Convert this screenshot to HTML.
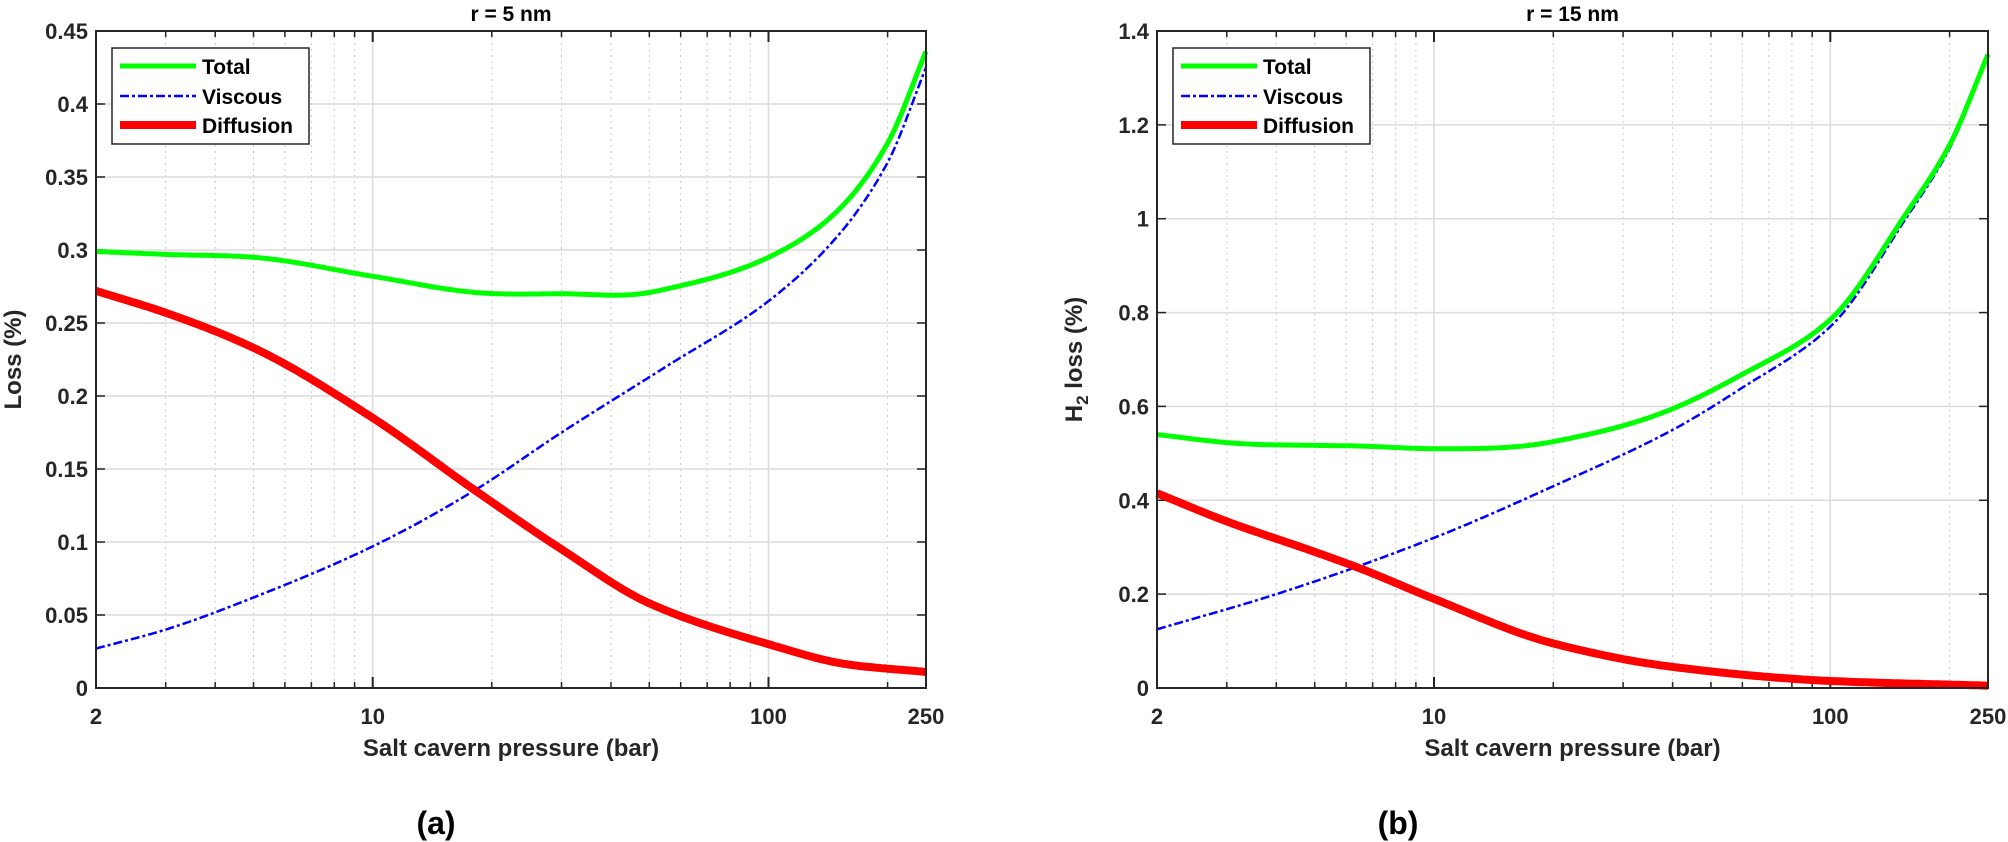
<!DOCTYPE html>
<html><head><meta charset="utf-8"><style>
html,body{margin:0;padding:0;background:#fff;}
svg{display:block;font-family:"Liberation Sans",Arial,sans-serif;font-weight:bold;}
</style></head><body>
<svg id="s" width="2008" height="842" viewBox="0 0 2008 842" xmlns="http://www.w3.org/2000/svg"></svg>
<script>
const S=document.getElementById('s');let h='';
function mono(pts){ // Fritsch-Carlson in log x
  const x=pts.map(p=>Math.log(p[0])),y=pts.map(p=>p[1]),n=x.length;
  const d=[],m=[];for(let i=0;i<n-1;i++)d.push((y[i+1]-y[i])/(x[i+1]-x[i]));
  m[0]=d[0];m[n-1]=d[n-2];
  for(let i=1;i<n-1;i++){if(d[i-1]*d[i]<=0)m[i]=0;else{const w1=2*(x[i+1]-x[i])+(x[i]-x[i-1]),w2=(x[i+1]-x[i])+2*(x[i]-x[i-1]);m[i]=(w1+w2)/(w1/d[i-1]+w2/d[i]);}}
  return lp=>{let i=0;while(i<n-2&&lp>x[i+1])i++;const hh=x[i+1]-x[i],t=(lp-x[i])/hh,t2=t*t,t3=t2*t;
    return (2*t3-3*t2+1)*y[i]+(t3-2*t2+t)*hh*m[i]+(-2*t3+3*t2)*y[i+1]+(t3-t2)*hh*m[i+1];};
}
function plot(L,R,T,B,ymax,ystep,ydec,vis,dif,title,ylabel,ylx,tag,tagx){
  const W=R-L,H=B-T;
  const X=p=>L+W*Math.log(p/2)/Math.log(125);
  const Y=v=>B-H*v/ymax;
  [3,4,5,6,7,8,9,20,30,40,50,60,70,80,90,200].forEach(p=>{const x=X(p).toFixed(1);
    h+=`<line x1="${x}" y1="${T}" x2="${x}" y2="${B}" stroke="#c8c8c8" stroke-width="1" stroke-dasharray="2,4"/>`;
    h+=`<line x1="${x}" y1="${B}" x2="${x}" y2="${B-6}" stroke="#222" stroke-width="1.5"/><line x1="${x}" y1="${T}" x2="${x}" y2="${T+6}" stroke="#222" stroke-width="1.5"/>`;});
  [10,100].forEach(p=>{const x=X(p).toFixed(1);
    h+=`<line x1="${x}" y1="${T}" x2="${x}" y2="${B}" stroke="#dcdcdc" stroke-width="1.5"/>`;
    h+=`<line x1="${x}" y1="${B}" x2="${x}" y2="${B-11}" stroke="#222" stroke-width="2"/><line x1="${x}" y1="${T}" x2="${x}" y2="${T+11}" stroke="#222" stroke-width="2"/>`;});
  const n=Math.round(ymax/ystep);
  for(let i=0;i<=n;i++){const v=i*ystep,y=Y(v).toFixed(1);
    if(i>0&&i<n)h+=`<line x1="${L}" y1="${y}" x2="${R}" y2="${y}" stroke="#dcdcdc" stroke-width="1.5"/>`;
    h+=`<line x1="${L}" y1="${y}" x2="${L+9}" y2="${y}" stroke="#222" stroke-width="1.5"/><line x1="${R}" y1="${y}" x2="${R-9}" y2="${y}" stroke="#222" stroke-width="1.5"/>`;
    let lab=i==0?'0':(+v.toFixed(ydec)).toString();
    h+=`<text x="${L-8}" y="${(+y+8).toFixed(1)}" text-anchor="end" font-size="22" fill="#262626">${lab}</text>`;}
  [[2,'2'],[10,'10'],[100,'100'],[250,'250']].forEach(([p,t])=>{h+=`<text x="${X(p).toFixed(1)}" y="724" text-anchor="middle" font-size="22" fill="#262626">${t}</text>`;});
  const fv=mono(vis),fd=mono(dif),ft=lp=>fv(lp)+fd(lp);
  const path=f=>{let d='';for(let k=0;k<=300;k++){const lp=Math.log(2)+k/300*Math.log(125);d+=(d?'L':'M')+X(Math.exp(lp)).toFixed(1)+','+Y(f(lp)).toFixed(1);}return d;};
  h+=`<path d="${path(fv)}" fill="none" stroke="#0000ff" stroke-width="2.5" stroke-dasharray="9,3,3,3"/>`;
  h+=`<path d="${path(ft)}" fill="none" stroke="#00ff00" stroke-width="5" stroke-linejoin="round"/>`;
  h+=`<path d="${path(fd)}" fill="none" stroke="#ff0000" stroke-width="8" stroke-linejoin="round"/>`;
  h+=`<rect x="${L}" y="${T}" width="${W}" height="${H}" fill="none" stroke="#262626" stroke-width="2"/>`;
  const lx=L+16,ly=48;
  h+=`<rect x="${lx}" y="${ly}" width="197" height="96" fill="#fff" stroke="#262626" stroke-width="1.5"/>`;
  h+=`<line x1="${lx+8}" y1="66" x2="${lx+84}" y2="66" stroke="#00ff00" stroke-width="5"/>`;
  h+=`<line x1="${lx+8}" y1="96" x2="${lx+84}" y2="96" stroke="#0000ff" stroke-width="2.5" stroke-dasharray="9,3,3,3"/>`;
  h+=`<line x1="${lx+8}" y1="125" x2="${lx+84}" y2="125" stroke="#ff0000" stroke-width="8"/>`;
  [['Total',74],['Viscous',104],['Diffusion',133]].forEach(([t,y])=>{h+=`<text x="${lx+90}" y="${y}" font-size="21" fill="#000">${t}</text>`;});
  h+=`<text x="${(L+R)/2}" y="21" text-anchor="middle" font-size="21" fill="#000">${title}</text>`;
  h+=`<text x="${(L+R)/2}" y="756" text-anchor="middle" font-size="24" fill="#262626">Salt cavern pressure (bar)</text>`;
  h+=`<text transform="translate(${ylx},${(T+B)/2}) rotate(-90)" text-anchor="middle" font-size="24" fill="#262626">${ylabel}</text>`;
  h+=`<text x="${tagx}" y="834" text-anchor="middle" font-size="32" fill="#000">${tag}</text>`;
}
plot(96,926,31,688,0.45,0.05,2,
 [[2,0.027],[3,0.04],[5,0.062],[10,0.097],[18,0.135],[30,0.175],[55,0.22],[100,0.265],[150,0.31],[200,0.36],[250,0.425]],
 [[2,0.272],[3,0.257],[5,0.233],[10,0.185],[18,0.136],[30,0.095],[50,0.058],[100,0.03],[160,0.016],[250,0.011]],
 'r = 5 nm','Loss (%)',21,'(a)',436);
plot(1157,1988,31,688,1.4,0.2,1,
 [[2,0.125],[4,0.2],[10,0.32],[20,0.43],[40,0.55],[60,0.64],[100,0.77],[155,1.0],[200,1.15],[250,1.345]],
 [[2,0.415],[3,0.355],[5,0.29],[6.5,0.255],[10,0.19],[20,0.095],[40,0.045],[100,0.015],[250,0.005]],
 'r = 15 nm','H<tspan font-size="17" dy="6">2</tspan><tspan dy="-6"> loss (%)</tspan>',1082,'(b)',1398);
S.innerHTML=h;
</script>
</body></html>
